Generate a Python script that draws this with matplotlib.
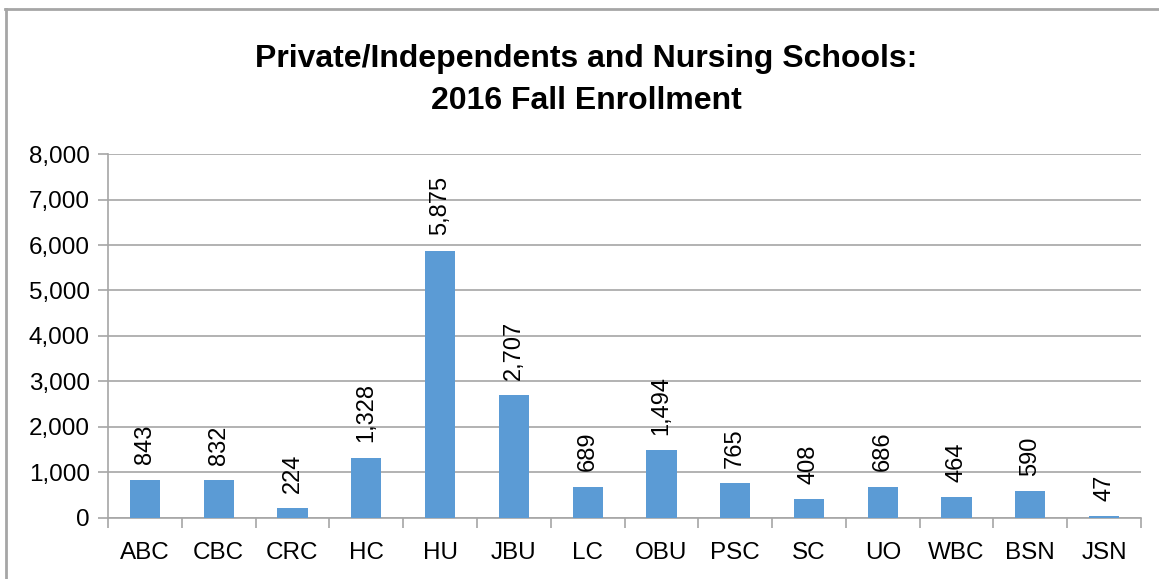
import matplotlib.pyplot as plt
from matplotlib.ticker import FuncFormatter
from matplotlib.lines import Line2D

schools = ["ABC", "CBC", "CRC", "HC", "HU", "JBU", "LC", "OBU", "PSC", "SC",
           "UO", "WBC", "BSN", "JSN"]
enrollment = [843, 832, 224, 1328, 5875, 2707, 689, 1494, 765, 408,
              686, 464, 590, 47]

plt.rcParams['font.family'] = ['Liberation Sans', 'DejaVu Sans']

fig = plt.figure(figsize=(11.59, 5.79), dpi=100)
ax = fig.add_axes([0.0932, 0.1054, 0.8913, 0.6286])

x = list(range(len(schools)))
ax.bar(x, enrollment, width=0.41, color="#5B9BD5", zorder=3)

for xi, v in zip(x, enrollment):
    ax.annotate(f"{v:,}", (xi, v), xytext=(0, 11), textcoords="offset points",
                rotation=90, ha="center", va="bottom", fontsize=17)

ax.set_xlim(-0.5, len(schools) - 0.5)
ax.set_ylim(0, 8000)
ax.set_yticks(range(0, 8001, 1000))
ax.yaxis.set_major_formatter(FuncFormatter(lambda v, p: f"{int(v):,}"))
ax.set_xticks(x)
ax.set_xticklabels(schools)
ax.set_xticks([i - 0.5 for i in range(len(schools) + 1)], minor=True)

ax.grid(axis="y", color="#A6A6A6", linewidth=1.2, zorder=0)
for s in ["top", "right"]:
    ax.spines[s].set_visible(False)
ax.spines["left"].set_color("#A6A6A6")
ax.spines["bottom"].set_color("#A6A6A6")
ax.spines["left"].set_linewidth(1.2)
ax.spines["bottom"].set_linewidth(1.2)

ax.tick_params(axis="y", length=7, color="#A6A6A6", width=1.2, labelsize=17.5, pad=6)
ax.tick_params(axis="x", which="major", length=0, labelsize=17.5, pad=17)
ax.tick_params(axis="x", which="minor", length=7, color="#A6A6A6", width=1.2)

fig.text(0.506, 0.862, "Private/Independents and Nursing Schools:\n2016 Fall Enrollment",
         ha="center", va="center", fontsize=23, fontweight="bold", linespacing=1.5)

# outer chart border (left and top edges visible)
fig.lines.append(Line2D([0.0052, 0.0052], [0.0, 0.985], transform=fig.transFigure,
                        color="#A6A6A6", linewidth=2))
fig.lines.append(Line2D([0.0043, 1.0], [0.985, 0.985], transform=fig.transFigure,
                        color="#A6A6A6", linewidth=2))

fig.savefig("out.png", dpi=100)
